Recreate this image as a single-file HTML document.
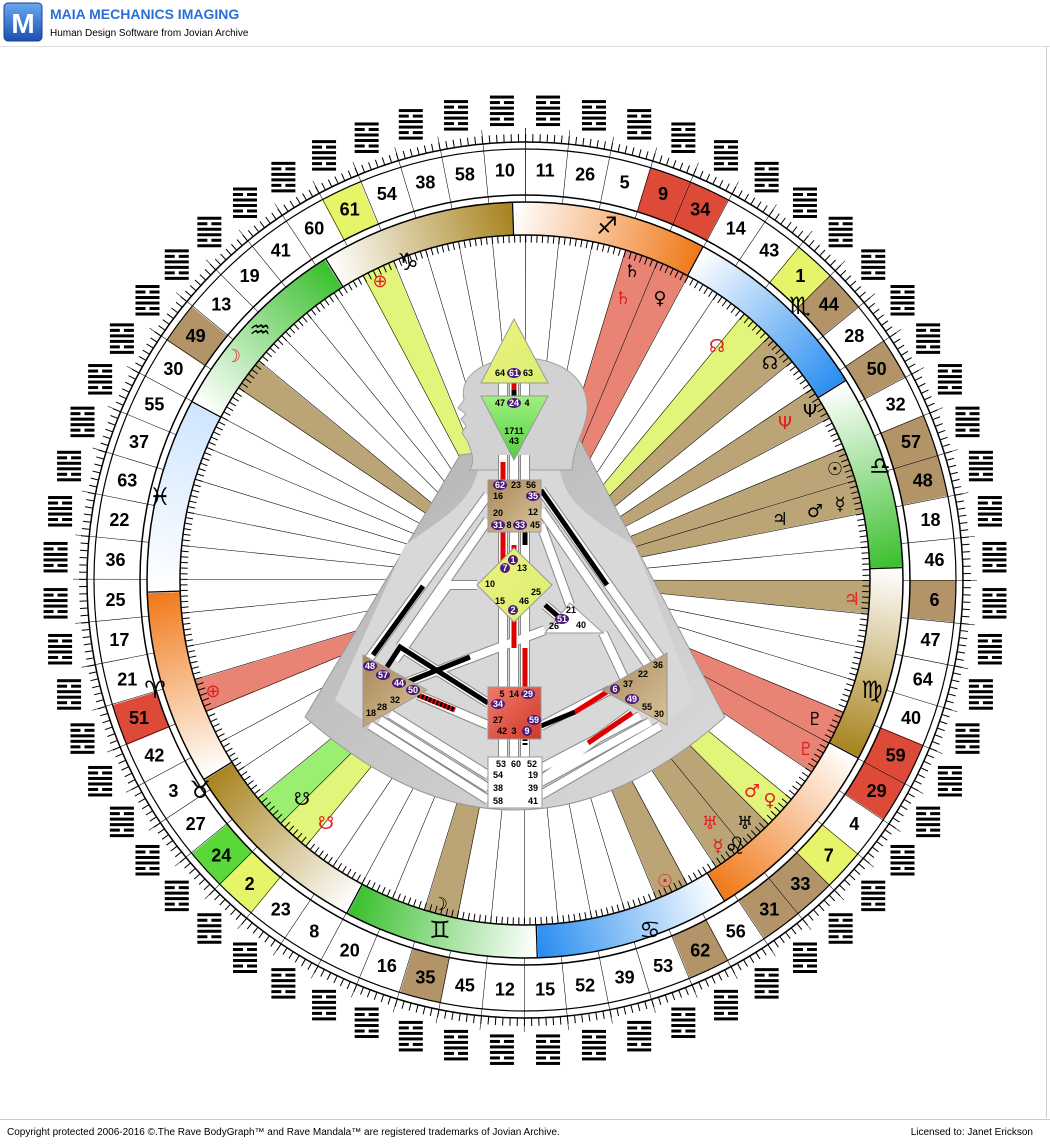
<!DOCTYPE html>
<html><head><meta charset="utf-8"><style>
html,body{margin:0;padding:0;background:#fff;width:1050px;height:1145px;overflow:hidden}
svg{display:block}
.n{font:bold 18px "Liberation Sans",sans-serif;text-anchor:middle;fill:#000}
.g{font:bold 9px "Liberation Sans",sans-serif;text-anchor:middle;fill:#000}
.p{font:bold 9px "Liberation Sans",sans-serif;text-anchor:middle;fill:#fff}
.z{font:bold 24px "DejaVu Sans",sans-serif;text-anchor:middle;fill:#000}
.pl{font:18px "DejaVu Sans",sans-serif;text-anchor:middle}
</style></head><body>
<svg width="1050" height="1145" viewBox="0 0 1050 1145" xmlns="http://www.w3.org/2000/svg">
<defs>
<g id="hx" fill="#000">
<rect x="513" y="565" width="24" height="3"/>
<rect x="513" y="570.5" width="10" height="3"/><rect x="527" y="570.5" width="10" height="3"/>
<rect x="513" y="576" width="24" height="3"/>
<rect x="513" y="581.5" width="24" height="3"/>
<rect x="513" y="587" width="10" height="3"/><rect x="527" y="587" width="10" height="3"/>
<rect x="513" y="592.5" width="24" height="3"/>
</g>
<linearGradient id="zf" gradientUnits="userSpaceOnUse" x1="886.5" y1="580" x2="838" y2="761"><stop offset="0" stop-color="#fff"/><stop offset="1" stop-color="#f07a1a"/></linearGradient>
<linearGradient id="zw" gradientUnits="userSpaceOnUse" x1="886.5" y1="580" x2="838" y2="761"><stop offset="0" stop-color="#fff"/><stop offset="1" stop-color="#2a8ef0"/></linearGradient>
<linearGradient id="za" gradientUnits="userSpaceOnUse" x1="886.5" y1="580" x2="838" y2="761"><stop offset="0" stop-color="#fff"/><stop offset="1" stop-color="#3cc030"/></linearGradient>
<linearGradient id="ze" gradientUnits="userSpaceOnUse" x1="886.5" y1="580" x2="838" y2="761"><stop offset="0" stop-color="#fff"/><stop offset="1" stop-color="#a88420"/></linearGradient>
<linearGradient id="zp" gradientUnits="userSpaceOnUse" x1="886.5" y1="580" x2="838" y2="761"><stop offset="0" stop-color="#fff"/><stop offset="1" stop-color="#cfe6ff"/></linearGradient>
<linearGradient id="gb" x1="0" y1="0" x2="1" y2="1"><stop offset="0" stop-color="#b0b0b0"/><stop offset="1" stop-color="#dcdcdc"/></linearGradient>
<linearGradient id="brn" x1="0" y1="0" x2="1" y2="1"><stop offset="0" stop-color="#a8875a"/><stop offset="1" stop-color="#d8c49a"/></linearGradient>
<linearGradient id="red" x1="0" y1="0" x2="1" y2="1"><stop offset="0" stop-color="#f07a6a"/><stop offset="1" stop-color="#d03828"/></linearGradient>
<linearGradient id="yel" x1="0" y1="0" x2="1" y2="1"><stop offset="0" stop-color="#f0f080"/><stop offset="1" stop-color="#d8f070"/></linearGradient>
<linearGradient id="grn" x1="0" y1="0" x2="0" y2="1"><stop offset="0" stop-color="#a0f080"/><stop offset="1" stop-color="#50d040"/></linearGradient>
<linearGradient id="logo" x1="0" y1="0" x2="0" y2="1"><stop offset="0" stop-color="#6aa8f0"/><stop offset="1" stop-color="#1a4fb0"/></linearGradient>
</defs>
<rect width="1050" height="1145" fill="#fff"/>
<!-- header -->
<rect x="4" y="3" width="38" height="38" rx="4" fill="url(#logo)" stroke="#1a3f90"/>
<text x="23" y="33" font-family="Liberation Sans,sans-serif" font-weight="bold" font-size="28" fill="#fff" text-anchor="middle">M</text>
<text x="50" y="19" font-family="Liberation Sans,sans-serif" font-weight="bold" font-size="14" fill="#2a6fd8">MAIA MECHANICS IMAGING</text>
<text x="50" y="36" font-family="Liberation Sans,sans-serif" font-size="10" fill="#000">Human Design Software from Jovian Archive</text>
<line x1="0" y1="46.5" x2="1050" y2="46.5" stroke="#ddd"/>
<line x1="1046.5" y1="46" x2="1046.5" y2="1118" stroke="#ccc"/>
<!-- footer -->
<line x1="0" y1="1119.5" x2="1050" y2="1119.5" stroke="#ccc"/>
<text x="7" y="1135" font-family="Liberation Sans,sans-serif" font-size="10" fill="#000">Copyright protected 2006-2016 ©.The Rave BodyGraph™ and Rave Mandala™ are registered trademarks of Jovian Archive.</text>
<text x="1033" y="1135" font-family="Liberation Sans,sans-serif" font-size="10" fill="#000" text-anchor="end">Licensed to:  Janet Erickson</text>

<!-- planet beams -->
<g fill="none" stroke-width="245">
<circle cx="525" cy="580" r="222.5" stroke="#e98474" stroke-dasharray="21.844 2000" transform="rotate(-73.125 525 580)"/>
<circle cx="525" cy="580" r="222.5" stroke="#e98474" stroke-dasharray="21.844 2000" transform="rotate(-67.5 525 580)"/>
<circle cx="525" cy="580" r="222.5" stroke="#e2f47a" stroke-dasharray="21.844 2000" transform="rotate(-50.625 525 580)"/>
<circle cx="525" cy="580" r="222.5" stroke="#bba577" stroke-dasharray="21.844 2000" transform="rotate(-45 525 580)"/>
<circle cx="525" cy="580" r="222.5" stroke="#bba577" stroke-dasharray="21.844 2000" transform="rotate(-33.75 525 580)"/>
<circle cx="525" cy="580" r="222.5" stroke="#bba577" stroke-dasharray="21.844 2000" transform="rotate(-22.5 525 580)"/>
<circle cx="525" cy="580" r="222.5" stroke="#bba577" stroke-dasharray="21.844 2000" transform="rotate(-16.875 525 580)"/>
<circle cx="525" cy="580" r="222.5" stroke="#bba577" stroke-dasharray="21.844 2000" transform="rotate(0 525 580)"/>
<circle cx="525" cy="580" r="222.5" stroke="#e98474" stroke-dasharray="21.844 2000" transform="rotate(22.5 525 580)"/>
<circle cx="525" cy="580" r="222.5" stroke="#e98474" stroke-dasharray="21.844 2000" transform="rotate(28.125 525 580)"/>
<circle cx="525" cy="580" r="222.5" stroke="#e2f47a" stroke-dasharray="21.844 2000" transform="rotate(39.375 525 580)"/>
<circle cx="525" cy="580" r="222.5" stroke="#bba577" stroke-dasharray="21.844 2000" transform="rotate(45 525 580)"/>
<circle cx="525" cy="580" r="222.5" stroke="#bba577" stroke-dasharray="21.844 2000" transform="rotate(50.625 525 580)"/>
<circle cx="525" cy="580" r="222.5" stroke="#bba577" stroke-dasharray="21.844 2000" transform="rotate(61.875 525 580)"/>
<circle cx="525" cy="580" r="222.5" stroke="#bba577" stroke-dasharray="21.844 2000" transform="rotate(101.25 525 580)"/>
<circle cx="525" cy="580" r="222.5" stroke="#e2f47a" stroke-dasharray="21.844 2000" transform="rotate(129.375 525 580)"/>
<circle cx="525" cy="580" r="222.5" stroke="#9aee70" stroke-dasharray="21.844 2000" transform="rotate(135 525 580)"/>
<circle cx="525" cy="580" r="222.5" stroke="#e98474" stroke-dasharray="21.844 2000" transform="rotate(157.5 525 580)"/>
<circle cx="525" cy="580" r="222.5" stroke="#bba577" stroke-dasharray="21.844 2000" transform="rotate(213.75 525 580)"/>
<circle cx="525" cy="580" r="222.5" stroke="#e2f47a" stroke-dasharray="21.844 2000" transform="rotate(241.875 525 580)"/>
</g>
<!-- gate cells -->
<g fill="none" stroke-width="46">
<circle cx="525" cy="580" r="408" stroke="#dd4a38" stroke-dasharray="40.055 3000" transform="rotate(-73.125 525 580)"/>
<circle cx="525" cy="580" r="408" stroke="#dd4a38" stroke-dasharray="40.055 3000" transform="rotate(-67.5 525 580)"/>
<circle cx="525" cy="580" r="408" stroke="#e6f46a" stroke-dasharray="40.055 3000" transform="rotate(-50.625 525 580)"/>
<circle cx="525" cy="580" r="408" stroke="#b29468" stroke-dasharray="40.055 3000" transform="rotate(-45 525 580)"/>
<circle cx="525" cy="580" r="408" stroke="#b29468" stroke-dasharray="40.055 3000" transform="rotate(-33.75 525 580)"/>
<circle cx="525" cy="580" r="408" stroke="#b29468" stroke-dasharray="40.055 3000" transform="rotate(-22.5 525 580)"/>
<circle cx="525" cy="580" r="408" stroke="#b29468" stroke-dasharray="40.055 3000" transform="rotate(-16.875 525 580)"/>
<circle cx="525" cy="580" r="408" stroke="#b29468" stroke-dasharray="40.055 3000" transform="rotate(0 525 580)"/>
<circle cx="525" cy="580" r="408" stroke="#dd4a38" stroke-dasharray="40.055 3000" transform="rotate(22.5 525 580)"/>
<circle cx="525" cy="580" r="408" stroke="#dd4a38" stroke-dasharray="40.055 3000" transform="rotate(28.125 525 580)"/>
<circle cx="525" cy="580" r="408" stroke="#e6f46a" stroke-dasharray="40.055 3000" transform="rotate(39.375 525 580)"/>
<circle cx="525" cy="580" r="408" stroke="#b29468" stroke-dasharray="40.055 3000" transform="rotate(45 525 580)"/>
<circle cx="525" cy="580" r="408" stroke="#b29468" stroke-dasharray="40.055 3000" transform="rotate(50.625 525 580)"/>
<circle cx="525" cy="580" r="408" stroke="#b29468" stroke-dasharray="40.055 3000" transform="rotate(61.875 525 580)"/>
<circle cx="525" cy="580" r="408" stroke="#b29468" stroke-dasharray="40.055 3000" transform="rotate(101.25 525 580)"/>
<circle cx="525" cy="580" r="408" stroke="#e6f46a" stroke-dasharray="40.055 3000" transform="rotate(129.375 525 580)"/>
<circle cx="525" cy="580" r="408" stroke="#5ad83a" stroke-dasharray="40.055 3000" transform="rotate(135 525 580)"/>
<circle cx="525" cy="580" r="408" stroke="#dd4a38" stroke-dasharray="40.055 3000" transform="rotate(157.5 525 580)"/>
<circle cx="525" cy="580" r="408" stroke="#b29468" stroke-dasharray="40.055 3000" transform="rotate(213.75 525 580)"/>
<circle cx="525" cy="580" r="408" stroke="#e6f46a" stroke-dasharray="40.055 3000" transform="rotate(241.875 525 580)"/>
</g>
<!-- radial lines -->
<circle cx="525" cy="580" r="226" fill="none" stroke="#000" stroke-width="452" stroke-dasharray="0.55 21.637" transform="rotate(-90 525 580)"/>
<!-- zodiac ring -->
<g fill="none" stroke-width="33">
<circle cx="525" cy="580" r="361.5" stroke="url(#zf)" stroke-dasharray="189.28 3000" transform="rotate(-92 525 580)"/>
<circle cx="525" cy="580" r="361.5" stroke="url(#zw)" stroke-dasharray="189.28 3000" transform="rotate(-62 525 580)"/>
<circle cx="525" cy="580" r="361.5" stroke="url(#za)" stroke-dasharray="189.28 3000" transform="rotate(-32 525 580)"/>
<circle cx="525" cy="580" r="361.5" stroke="url(#ze)" stroke-dasharray="189.28 3000" transform="rotate(-2 525 580)"/>
<circle cx="525" cy="580" r="361.5" stroke="url(#zf)" stroke-dasharray="189.28 3000" transform="rotate(28 525 580)"/>
<circle cx="525" cy="580" r="361.5" stroke="url(#zw)" stroke-dasharray="189.28 3000" transform="rotate(58 525 580)"/>
<circle cx="525" cy="580" r="361.5" stroke="url(#za)" stroke-dasharray="189.28 3000" transform="rotate(88 525 580)"/>
<circle cx="525" cy="580" r="361.5" stroke="url(#ze)" stroke-dasharray="189.28 3000" transform="rotate(118 525 580)"/>
<circle cx="525" cy="580" r="361.5" stroke="url(#zf)" stroke-dasharray="189.28 3000" transform="rotate(148 525 580)"/>
<circle cx="525" cy="580" r="361.5" stroke="url(#zp)" stroke-dasharray="189.28 3000" transform="rotate(178 525 580)"/>
<circle cx="525" cy="580" r="361.5" stroke="url(#za)" stroke-dasharray="189.28 3000" transform="rotate(208 525 580)"/>
<circle cx="525" cy="580" r="361.5" stroke="url(#ze)" stroke-dasharray="189.28 3000" transform="rotate(238 525 580)"/>
<circle cx="525" cy="580" r="361.5" stroke="#000" stroke-dasharray="1.3 188" transform="rotate(-92 525 580)"/>
</g>
<!-- rings and ticks -->
<g fill="none" stroke="#000">
<circle cx="525" cy="580" r="345" stroke-width="1.5"/>
<circle cx="525" cy="580" r="378" stroke-width="1.5"/>
<circle cx="525" cy="580" r="385" stroke-width="1.5"/>
<circle cx="525" cy="580" r="431" stroke-width="1.2"/>
<circle cx="525" cy="580" r="438" stroke-width="1.5"/>
<circle cx="525" cy="580" r="442" stroke-width="8" stroke-dasharray="1 6.232"/>
<circle cx="525" cy="580" r="341" stroke-width="7" stroke-dasharray="1 4.58"/>
</g>
<!-- zodiac glyphs -->
<g class="z">
<text x="607" y="234">♐</text><text x="800" y="314">♏</text><text x="880" y="474">♎</text>
<text x="872" y="698">♍</text><text x="735" y="854">♌</text><text x="650" y="938">♋</text>
<text x="440" y="938">♊</text><text x="200" y="798">♉</text><text x="155" y="698">♈</text>
<text x="160" y="505">♓</text><text x="260" y="338">♒</text><text x="408" y="270">♑</text>
</g>
<!-- planet glyphs -->
<g class="pl">
<text x="632" y="277" fill="#000">♄</text><text x="623" y="304" fill="#e02020">♄</text><text x="660" y="304" fill="#000">♀</text>
<text x="717" y="352" fill="#e02020">☊</text><text x="770" y="369" fill="#000">☊</text>
<text x="785" y="429" fill="#e02020">Ψ</text><text x="810" y="417" fill="#000">Ψ</text>
<text x="835" y="475" fill="#000">☉</text><text x="815" y="517" fill="#000">♂</text><text x="840" y="510" fill="#000">☿</text>
<text x="780" y="525" fill="#000">♃</text><text x="852" y="605" fill="#e02020">♃</text>
<text x="815" y="725" fill="#000">♇</text><text x="806" y="755" fill="#e02020">♇</text>
<text x="752" y="797" fill="#e02020">♂</text><text x="770" y="806" fill="#e02020">♀</text>
<text x="745" y="829" fill="#000">♅</text><text x="710" y="829" fill="#e02020">♅</text><text x="718" y="852" fill="#e02020">☿</text>
<text x="665" y="887" fill="#e02020">☉</text><text x="440" y="910" fill="#000">☽</text>
<text x="302" y="805" fill="#000">☋</text><text x="326" y="829" fill="#e02020">☋</text>
<text x="213" y="697" fill="#e02020">⊕</text><text x="233" y="362" fill="#e02020">☽</text><text x="380" y="287" fill="#e02020">⊕</text>
</g>
<!-- gate numbers -->
<g class="n">
<text x="525" y="586" transform="rotate(2.8125 525 580) translate(0 -410) rotate(-2.8125 525 580)">11</text>
<text x="525" y="586" transform="rotate(8.4375 525 580) translate(0 -410) rotate(-8.4375 525 580)">26</text>
<text x="525" y="586" transform="rotate(14.0625 525 580) translate(0 -410) rotate(-14.0625 525 580)">5</text>
<text x="525" y="586" transform="rotate(19.6875 525 580) translate(0 -410) rotate(-19.6875 525 580)">9</text>
<text x="525" y="586" transform="rotate(25.3125 525 580) translate(0 -410) rotate(-25.3125 525 580)">34</text>
<text x="525" y="586" transform="rotate(30.9375 525 580) translate(0 -410) rotate(-30.9375 525 580)">14</text>
<text x="525" y="586" transform="rotate(36.5625 525 580) translate(0 -410) rotate(-36.5625 525 580)">43</text>
<text x="525" y="586" transform="rotate(42.1875 525 580) translate(0 -410) rotate(-42.1875 525 580)">1</text>
<text x="525" y="586" transform="rotate(47.8125 525 580) translate(0 -410) rotate(-47.8125 525 580)">44</text>
<text x="525" y="586" transform="rotate(53.4375 525 580) translate(0 -410) rotate(-53.4375 525 580)">28</text>
<text x="525" y="586" transform="rotate(59.0625 525 580) translate(0 -410) rotate(-59.0625 525 580)">50</text>
<text x="525" y="586" transform="rotate(64.6875 525 580) translate(0 -410) rotate(-64.6875 525 580)">32</text>
<text x="525" y="586" transform="rotate(70.3125 525 580) translate(0 -410) rotate(-70.3125 525 580)">57</text>
<text x="525" y="586" transform="rotate(75.9375 525 580) translate(0 -410) rotate(-75.9375 525 580)">48</text>
<text x="525" y="586" transform="rotate(81.5625 525 580) translate(0 -410) rotate(-81.5625 525 580)">18</text>
<text x="525" y="586" transform="rotate(87.1875 525 580) translate(0 -410) rotate(-87.1875 525 580)">46</text>
<text x="525" y="586" transform="rotate(92.8125 525 580) translate(0 -410) rotate(-92.8125 525 580)">6</text>
<text x="525" y="586" transform="rotate(98.4375 525 580) translate(0 -410) rotate(-98.4375 525 580)">47</text>
<text x="525" y="586" transform="rotate(104.0625 525 580) translate(0 -410) rotate(-104.0625 525 580)">64</text>
<text x="525" y="586" transform="rotate(109.6875 525 580) translate(0 -410) rotate(-109.6875 525 580)">40</text>
<text x="525" y="586" transform="rotate(115.3125 525 580) translate(0 -410) rotate(-115.3125 525 580)">59</text>
<text x="525" y="586" transform="rotate(120.9375 525 580) translate(0 -410) rotate(-120.9375 525 580)">29</text>
<text x="525" y="586" transform="rotate(126.5625 525 580) translate(0 -410) rotate(-126.5625 525 580)">4</text>
<text x="525" y="586" transform="rotate(132.1875 525 580) translate(0 -410) rotate(-132.1875 525 580)">7</text>
<text x="525" y="586" transform="rotate(137.8125 525 580) translate(0 -410) rotate(-137.8125 525 580)">33</text>
<text x="525" y="586" transform="rotate(143.4375 525 580) translate(0 -410) rotate(-143.4375 525 580)">31</text>
<text x="525" y="586" transform="rotate(149.0625 525 580) translate(0 -410) rotate(-149.0625 525 580)">56</text>
<text x="525" y="586" transform="rotate(154.6875 525 580) translate(0 -410) rotate(-154.6875 525 580)">62</text>
<text x="525" y="586" transform="rotate(160.3125 525 580) translate(0 -410) rotate(-160.3125 525 580)">53</text>
<text x="525" y="586" transform="rotate(165.9375 525 580) translate(0 -410) rotate(-165.9375 525 580)">39</text>
<text x="525" y="586" transform="rotate(171.5625 525 580) translate(0 -410) rotate(-171.5625 525 580)">52</text>
<text x="525" y="586" transform="rotate(177.1875 525 580) translate(0 -410) rotate(-177.1875 525 580)">15</text>
<text x="525" y="586" transform="rotate(182.8125 525 580) translate(0 -410) rotate(-182.8125 525 580)">12</text>
<text x="525" y="586" transform="rotate(188.4375 525 580) translate(0 -410) rotate(-188.4375 525 580)">45</text>
<text x="525" y="586" transform="rotate(194.0625 525 580) translate(0 -410) rotate(-194.0625 525 580)">35</text>
<text x="525" y="586" transform="rotate(199.6875 525 580) translate(0 -410) rotate(-199.6875 525 580)">16</text>
<text x="525" y="586" transform="rotate(205.3125 525 580) translate(0 -410) rotate(-205.3125 525 580)">20</text>
<text x="525" y="586" transform="rotate(210.9375 525 580) translate(0 -410) rotate(-210.9375 525 580)">8</text>
<text x="525" y="586" transform="rotate(216.5625 525 580) translate(0 -410) rotate(-216.5625 525 580)">23</text>
<text x="525" y="586" transform="rotate(222.1875 525 580) translate(0 -410) rotate(-222.1875 525 580)">2</text>
<text x="525" y="586" transform="rotate(227.8125 525 580) translate(0 -410) rotate(-227.8125 525 580)">24</text>
<text x="525" y="586" transform="rotate(233.4375 525 580) translate(0 -410) rotate(-233.4375 525 580)">27</text>
<text x="525" y="586" transform="rotate(239.0625 525 580) translate(0 -410) rotate(-239.0625 525 580)">3</text>
<text x="525" y="586" transform="rotate(244.6875 525 580) translate(0 -410) rotate(-244.6875 525 580)">42</text>
<text x="525" y="586" transform="rotate(250.3125 525 580) translate(0 -410) rotate(-250.3125 525 580)">51</text>
<text x="525" y="586" transform="rotate(255.9375 525 580) translate(0 -410) rotate(-255.9375 525 580)">21</text>
<text x="525" y="586" transform="rotate(261.5625 525 580) translate(0 -410) rotate(-261.5625 525 580)">17</text>
<text x="525" y="586" transform="rotate(267.1875 525 580) translate(0 -410) rotate(-267.1875 525 580)">25</text>
<text x="525" y="586" transform="rotate(272.8125 525 580) translate(0 -410) rotate(-272.8125 525 580)">36</text>
<text x="525" y="586" transform="rotate(278.4375 525 580) translate(0 -410) rotate(-278.4375 525 580)">22</text>
<text x="525" y="586" transform="rotate(284.0625 525 580) translate(0 -410) rotate(-284.0625 525 580)">63</text>
<text x="525" y="586" transform="rotate(289.6875 525 580) translate(0 -410) rotate(-289.6875 525 580)">37</text>
<text x="525" y="586" transform="rotate(295.3125 525 580) translate(0 -410) rotate(-295.3125 525 580)">55</text>
<text x="525" y="586" transform="rotate(300.9375 525 580) translate(0 -410) rotate(-300.9375 525 580)">30</text>
<text x="525" y="586" transform="rotate(306.5625 525 580) translate(0 -410) rotate(-306.5625 525 580)">49</text>
<text x="525" y="586" transform="rotate(312.1875 525 580) translate(0 -410) rotate(-312.1875 525 580)">13</text>
<text x="525" y="586" transform="rotate(317.8125 525 580) translate(0 -410) rotate(-317.8125 525 580)">19</text>
<text x="525" y="586" transform="rotate(323.4375 525 580) translate(0 -410) rotate(-323.4375 525 580)">41</text>
<text x="525" y="586" transform="rotate(329.0625 525 580) translate(0 -410) rotate(-329.0625 525 580)">60</text>
<text x="525" y="586" transform="rotate(334.6875 525 580) translate(0 -410) rotate(-334.6875 525 580)">61</text>
<text x="525" y="586" transform="rotate(340.3125 525 580) translate(0 -410) rotate(-340.3125 525 580)">54</text>
<text x="525" y="586" transform="rotate(345.9375 525 580) translate(0 -410) rotate(-345.9375 525 580)">38</text>
<text x="525" y="586" transform="rotate(351.5625 525 580) translate(0 -410) rotate(-351.5625 525 580)">58</text>
<text x="525" y="586" transform="rotate(357.1875 525 580) translate(0 -410) rotate(-357.1875 525 580)">10</text>
</g>
<!-- hexagrams -->
<g>
<use href="#hx" transform="rotate(2.8125 525 580) translate(0 -470) rotate(-2.8125 525 580)"/>
<use href="#hx" transform="rotate(8.4375 525 580) translate(0 -470) rotate(-8.4375 525 580)"/>
<use href="#hx" transform="rotate(14.0625 525 580) translate(0 -470) rotate(-14.0625 525 580)"/>
<use href="#hx" transform="rotate(19.6875 525 580) translate(0 -470) rotate(-19.6875 525 580)"/>
<use href="#hx" transform="rotate(25.3125 525 580) translate(0 -470) rotate(-25.3125 525 580)"/>
<use href="#hx" transform="rotate(30.9375 525 580) translate(0 -470) rotate(-30.9375 525 580)"/>
<use href="#hx" transform="rotate(36.5625 525 580) translate(0 -470) rotate(-36.5625 525 580)"/>
<use href="#hx" transform="rotate(42.1875 525 580) translate(0 -470) rotate(-42.1875 525 580)"/>
<use href="#hx" transform="rotate(47.8125 525 580) translate(0 -470) rotate(-47.8125 525 580)"/>
<use href="#hx" transform="rotate(53.4375 525 580) translate(0 -470) rotate(-53.4375 525 580)"/>
<use href="#hx" transform="rotate(59.0625 525 580) translate(0 -470) rotate(-59.0625 525 580)"/>
<use href="#hx" transform="rotate(64.6875 525 580) translate(0 -470) rotate(-64.6875 525 580)"/>
<use href="#hx" transform="rotate(70.3125 525 580) translate(0 -470) rotate(-70.3125 525 580)"/>
<use href="#hx" transform="rotate(75.9375 525 580) translate(0 -470) rotate(-75.9375 525 580)"/>
<use href="#hx" transform="rotate(81.5625 525 580) translate(0 -470) rotate(-81.5625 525 580)"/>
<use href="#hx" transform="rotate(87.1875 525 580) translate(0 -470) rotate(-87.1875 525 580)"/>
<use href="#hx" transform="rotate(92.8125 525 580) translate(0 -470) rotate(-92.8125 525 580)"/>
<use href="#hx" transform="rotate(98.4375 525 580) translate(0 -470) rotate(-98.4375 525 580)"/>
<use href="#hx" transform="rotate(104.0625 525 580) translate(0 -470) rotate(-104.0625 525 580)"/>
<use href="#hx" transform="rotate(109.6875 525 580) translate(0 -470) rotate(-109.6875 525 580)"/>
<use href="#hx" transform="rotate(115.3125 525 580) translate(0 -470) rotate(-115.3125 525 580)"/>
<use href="#hx" transform="rotate(120.9375 525 580) translate(0 -470) rotate(-120.9375 525 580)"/>
<use href="#hx" transform="rotate(126.5625 525 580) translate(0 -470) rotate(-126.5625 525 580)"/>
<use href="#hx" transform="rotate(132.1875 525 580) translate(0 -470) rotate(-132.1875 525 580)"/>
<use href="#hx" transform="rotate(137.8125 525 580) translate(0 -470) rotate(-137.8125 525 580)"/>
<use href="#hx" transform="rotate(143.4375 525 580) translate(0 -470) rotate(-143.4375 525 580)"/>
<use href="#hx" transform="rotate(149.0625 525 580) translate(0 -470) rotate(-149.0625 525 580)"/>
<use href="#hx" transform="rotate(154.6875 525 580) translate(0 -470) rotate(-154.6875 525 580)"/>
<use href="#hx" transform="rotate(160.3125 525 580) translate(0 -470) rotate(-160.3125 525 580)"/>
<use href="#hx" transform="rotate(165.9375 525 580) translate(0 -470) rotate(-165.9375 525 580)"/>
<use href="#hx" transform="rotate(171.5625 525 580) translate(0 -470) rotate(-171.5625 525 580)"/>
<use href="#hx" transform="rotate(177.1875 525 580) translate(0 -470) rotate(-177.1875 525 580)"/>
<use href="#hx" transform="rotate(182.8125 525 580) translate(0 -470) rotate(-182.8125 525 580)"/>
<use href="#hx" transform="rotate(188.4375 525 580) translate(0 -470) rotate(-188.4375 525 580)"/>
<use href="#hx" transform="rotate(194.0625 525 580) translate(0 -470) rotate(-194.0625 525 580)"/>
<use href="#hx" transform="rotate(199.6875 525 580) translate(0 -470) rotate(-199.6875 525 580)"/>
<use href="#hx" transform="rotate(205.3125 525 580) translate(0 -470) rotate(-205.3125 525 580)"/>
<use href="#hx" transform="rotate(210.9375 525 580) translate(0 -470) rotate(-210.9375 525 580)"/>
<use href="#hx" transform="rotate(216.5625 525 580) translate(0 -470) rotate(-216.5625 525 580)"/>
<use href="#hx" transform="rotate(222.1875 525 580) translate(0 -470) rotate(-222.1875 525 580)"/>
<use href="#hx" transform="rotate(227.8125 525 580) translate(0 -470) rotate(-227.8125 525 580)"/>
<use href="#hx" transform="rotate(233.4375 525 580) translate(0 -470) rotate(-233.4375 525 580)"/>
<use href="#hx" transform="rotate(239.0625 525 580) translate(0 -470) rotate(-239.0625 525 580)"/>
<use href="#hx" transform="rotate(244.6875 525 580) translate(0 -470) rotate(-244.6875 525 580)"/>
<use href="#hx" transform="rotate(250.3125 525 580) translate(0 -470) rotate(-250.3125 525 580)"/>
<use href="#hx" transform="rotate(255.9375 525 580) translate(0 -470) rotate(-255.9375 525 580)"/>
<use href="#hx" transform="rotate(261.5625 525 580) translate(0 -470) rotate(-261.5625 525 580)"/>
<use href="#hx" transform="rotate(267.1875 525 580) translate(0 -470) rotate(-267.1875 525 580)"/>
<use href="#hx" transform="rotate(272.8125 525 580) translate(0 -470) rotate(-272.8125 525 580)"/>
<use href="#hx" transform="rotate(278.4375 525 580) translate(0 -470) rotate(-278.4375 525 580)"/>
<use href="#hx" transform="rotate(284.0625 525 580) translate(0 -470) rotate(-284.0625 525 580)"/>
<use href="#hx" transform="rotate(289.6875 525 580) translate(0 -470) rotate(-289.6875 525 580)"/>
<use href="#hx" transform="rotate(295.3125 525 580) translate(0 -470) rotate(-295.3125 525 580)"/>
<use href="#hx" transform="rotate(300.9375 525 580) translate(0 -470) rotate(-300.9375 525 580)"/>
<use href="#hx" transform="rotate(306.5625 525 580) translate(0 -470) rotate(-306.5625 525 580)"/>
<use href="#hx" transform="rotate(312.1875 525 580) translate(0 -470) rotate(-312.1875 525 580)"/>
<use href="#hx" transform="rotate(317.8125 525 580) translate(0 -470) rotate(-317.8125 525 580)"/>
<use href="#hx" transform="rotate(323.4375 525 580) translate(0 -470) rotate(-323.4375 525 580)"/>
<use href="#hx" transform="rotate(329.0625 525 580) translate(0 -470) rotate(-329.0625 525 580)"/>
<use href="#hx" transform="rotate(334.6875 525 580) translate(0 -470) rotate(-334.6875 525 580)"/>
<use href="#hx" transform="rotate(340.3125 525 580) translate(0 -470) rotate(-340.3125 525 580)"/>
<use href="#hx" transform="rotate(345.9375 525 580) translate(0 -470) rotate(-345.9375 525 580)"/>
<use href="#hx" transform="rotate(351.5625 525 580) translate(0 -470) rotate(-351.5625 525 580)"/>
<use href="#hx" transform="rotate(357.1875 525 580) translate(0 -470) rotate(-357.1875 525 580)"/>
</g>

<!-- BODYGRAPH -->
<path d="M305,717 L460,455 L580,440 L725,717 Q515,903 305,717 Z" fill="url(#gb)" stroke="#999"/>
<path d="M335,700 L405,545 C440,520 470,505 478,470 L560,470 C565,505 600,525 635,545 L695,700 Q515,840 335,700 Z" fill="#d8d8d8"/>
<path d="M470,470 C476,458 470,450 468,442 L462,433 L466,426 L461,419 L466,414 L458,408 L464,400 C458,372 490,358 522,358 C560,358 590,378 587,412 C585,432 574,442 572,470 Z" fill="#d2d2d2" stroke="#a0a0a0"/>
<!-- channels -->
<g fill="none" stroke-linecap="butt">
<g stroke="#888" stroke-width="10">
<path d="M503,383V397M514,383V397M525,383V397M503,455V482M514,455V482M525,455V482M503,532V575M514,532V560M525,532V575M503,605V690M514,615V690M525,600V690M503,739V760M514,739V760M525,739V760"/>
<path d="M541,490L662,660M541,510L650,668M541,525L570,605M488,495L368,660M488,520L400,647M477,585L448,585L395,660M400,647L488,703M405,683L545,630M418,695L488,725M545,605L560,618M603,633L625,680M541,726L610,690M632,713L541,780M541,768L640,716M541,782L650,722M541,795L660,726M370,725L488,800M380,720L488,788M390,714L488,775"/>
</g>
<g stroke="#fff" stroke-width="8">
<path d="M503,383V397M514,383V397M525,383V397M503,455V482M514,455V482M525,455V482M503,532V575M514,532V560M525,532V575M503,605V690M514,615V690M525,600V690M503,739V760M514,739V760M525,739V760"/>
<path d="M541,490L662,660M541,510L650,668M541,525L570,605M488,495L368,660M488,520L400,647M477,585L448,585L395,660M400,647L488,703M405,683L545,630M418,695L488,725M545,605L560,618M603,633L625,680M541,726L610,690M632,713L541,780M541,768L640,716M541,782L650,722M541,795L660,726M370,725L488,800M380,720L488,788M390,714L488,775"/>
</g>
<g stroke-width="5">
<path d="M514,383V390" stroke="#e00000"/><path d="M514,390V397" stroke="#000"/>
<path d="M503,462V482" stroke="#e00000"/>
<path d="M503,532V572" stroke="#e00000"/>
<path d="M514,545V560" stroke="#e00000"/>
<path d="M525,532V545" stroke="#000"/>
<path d="M514,620V648" stroke="#e00000"/>
<path d="M525,648V690" stroke="#e00000"/>
<path d="M525,739V746" stroke="#000" stroke-dasharray="2 2"/>
<path d="M541,490L607,585" stroke="#000"/>
<path d="M423,586L373,655" stroke="#000"/>
<path d="M387,667L400,647L488,703" stroke="#000"/>
<path d="M405,683L470,657" stroke="#000"/>
<path d="M418,695L455,710" stroke="#e00000"/>
<path d="M418,695L455,710" stroke="#000" stroke-dasharray="2 2"/>
<path d="M545,605L560,618" stroke="#000"/>
<path d="M541,726L575,712" stroke="#000"/>
<path d="M575,712L610,690" stroke="#e00000"/>
<path d="M632,713L588,743" stroke="#e00000"/>
</g>
</g>
<!-- centers -->
<polygon points="514,319 481,383 548,383" fill="url(#yel)" stroke="#999"/>
<polygon points="481,396 548,396 514,460" fill="url(#grn)" stroke="#999"/>
<rect x="488" y="480" width="53" height="52" fill="url(#brn)" stroke="#999"/>
<polygon points="514,548 552,585 514,622 477,585" fill="url(#yel)" stroke="#999"/>
<polygon points="570,603 603,633 545,633" fill="#fff" stroke="#999"/>
<rect x="488" y="687" width="53" height="52" fill="url(#red)" stroke="#999"/>
<polygon points="363,655 427,690 363,727" fill="url(#brn)" stroke="#999"/>
<polygon points="667,653 602,690 667,725" fill="url(#brn)" stroke="#999"/>
<rect x="488" y="757" width="54" height="51" fill="#fff" stroke="#999"/>
<!-- purple activations -->
<g fill="#4b1a7a">
<ellipse cx="514" cy="373" rx="7" ry="5"/><ellipse cx="514" cy="403" rx="7" ry="5"/>
<ellipse cx="500" cy="485" rx="7" ry="5"/><ellipse cx="533" cy="496" rx="7" ry="5"/>
<ellipse cx="498" cy="525" rx="7" ry="5"/><ellipse cx="520" cy="525" rx="7" ry="5"/>
<ellipse cx="513" cy="560" rx="5" ry="5"/><ellipse cx="505" cy="568" rx="5" ry="5"/>
<ellipse cx="513" cy="610" rx="5" ry="5"/><ellipse cx="562" cy="619" rx="7" ry="5"/>
<ellipse cx="370" cy="666" rx="7" ry="5"/><ellipse cx="383" cy="675" rx="7" ry="5"/>
<ellipse cx="399" cy="683" rx="7" ry="5"/><ellipse cx="413" cy="690" rx="7" ry="5"/>
<ellipse cx="498" cy="704" rx="7" ry="5"/><ellipse cx="528" cy="694" rx="7" ry="5"/>
<ellipse cx="534" cy="720" rx="7" ry="5"/><ellipse cx="527" cy="731" rx="5" ry="5"/>
<ellipse cx="615" cy="689" rx="5" ry="5"/><ellipse cx="632" cy="699" rx="7" ry="5"/>
</g>
<g class="p">
<text x="514" y="376">61</text><text x="514" y="406">24</text><text x="500" y="488">62</text><text x="533" y="499">35</text>
<text x="498" y="528">31</text><text x="520" y="528">33</text><text x="513" y="563">1</text><text x="505" y="571">7</text>
<text x="513" y="613">2</text><text x="562" y="622">51</text><text x="370" y="669">48</text><text x="383" y="678">57</text>
<text x="399" y="686">44</text><text x="413" y="693">50</text><text x="498" y="707">34</text><text x="528" y="697">29</text>
<text x="534" y="723">59</text><text x="527" y="734">9</text><text x="615" y="692">6</text><text x="632" y="702">49</text>
</g>
<g class="g">
<text x="500" y="376">64</text><text x="528" y="376">63</text><text x="500" y="406">47</text><text x="527" y="406">4</text>
<text x="514" y="434">1711</text><text x="514" y="444">43</text>
<text x="516" y="488">23</text><text x="531" y="488">56</text><text x="498" y="499">16</text><text x="498" y="516">20</text>
<text x="533" y="515">12</text><text x="509" y="528">8</text><text x="535" y="528">45</text>
<text x="522" y="571">13</text><text x="490" y="587">10</text><text x="536" y="595">25</text><text x="500" y="604">15</text><text x="524" y="604">46</text>
<text x="571" y="613">21</text><text x="554" y="629">26</text><text x="581" y="628">40</text>
<text x="502" y="697">5</text><text x="514" y="697">14</text><text x="498" y="723">27</text><text x="502" y="734">42</text><text x="514" y="734">3</text>
<text x="395" y="703">32</text><text x="382" y="710">28</text><text x="371" y="716">18</text>
<text x="658" y="668">36</text><text x="643" y="677">22</text><text x="628" y="687">37</text><text x="647" y="710">55</text><text x="659" y="717">30</text>
<text x="501" y="767">53</text><text x="516" y="767">60</text><text x="532" y="767">52</text>
<text x="498" y="778">54</text><text x="533" y="778">19</text><text x="498" y="791">38</text><text x="533" y="791">39</text>
<text x="498" y="804">58</text><text x="533" y="804">41</text>
</g>
</svg>
</body></html>
